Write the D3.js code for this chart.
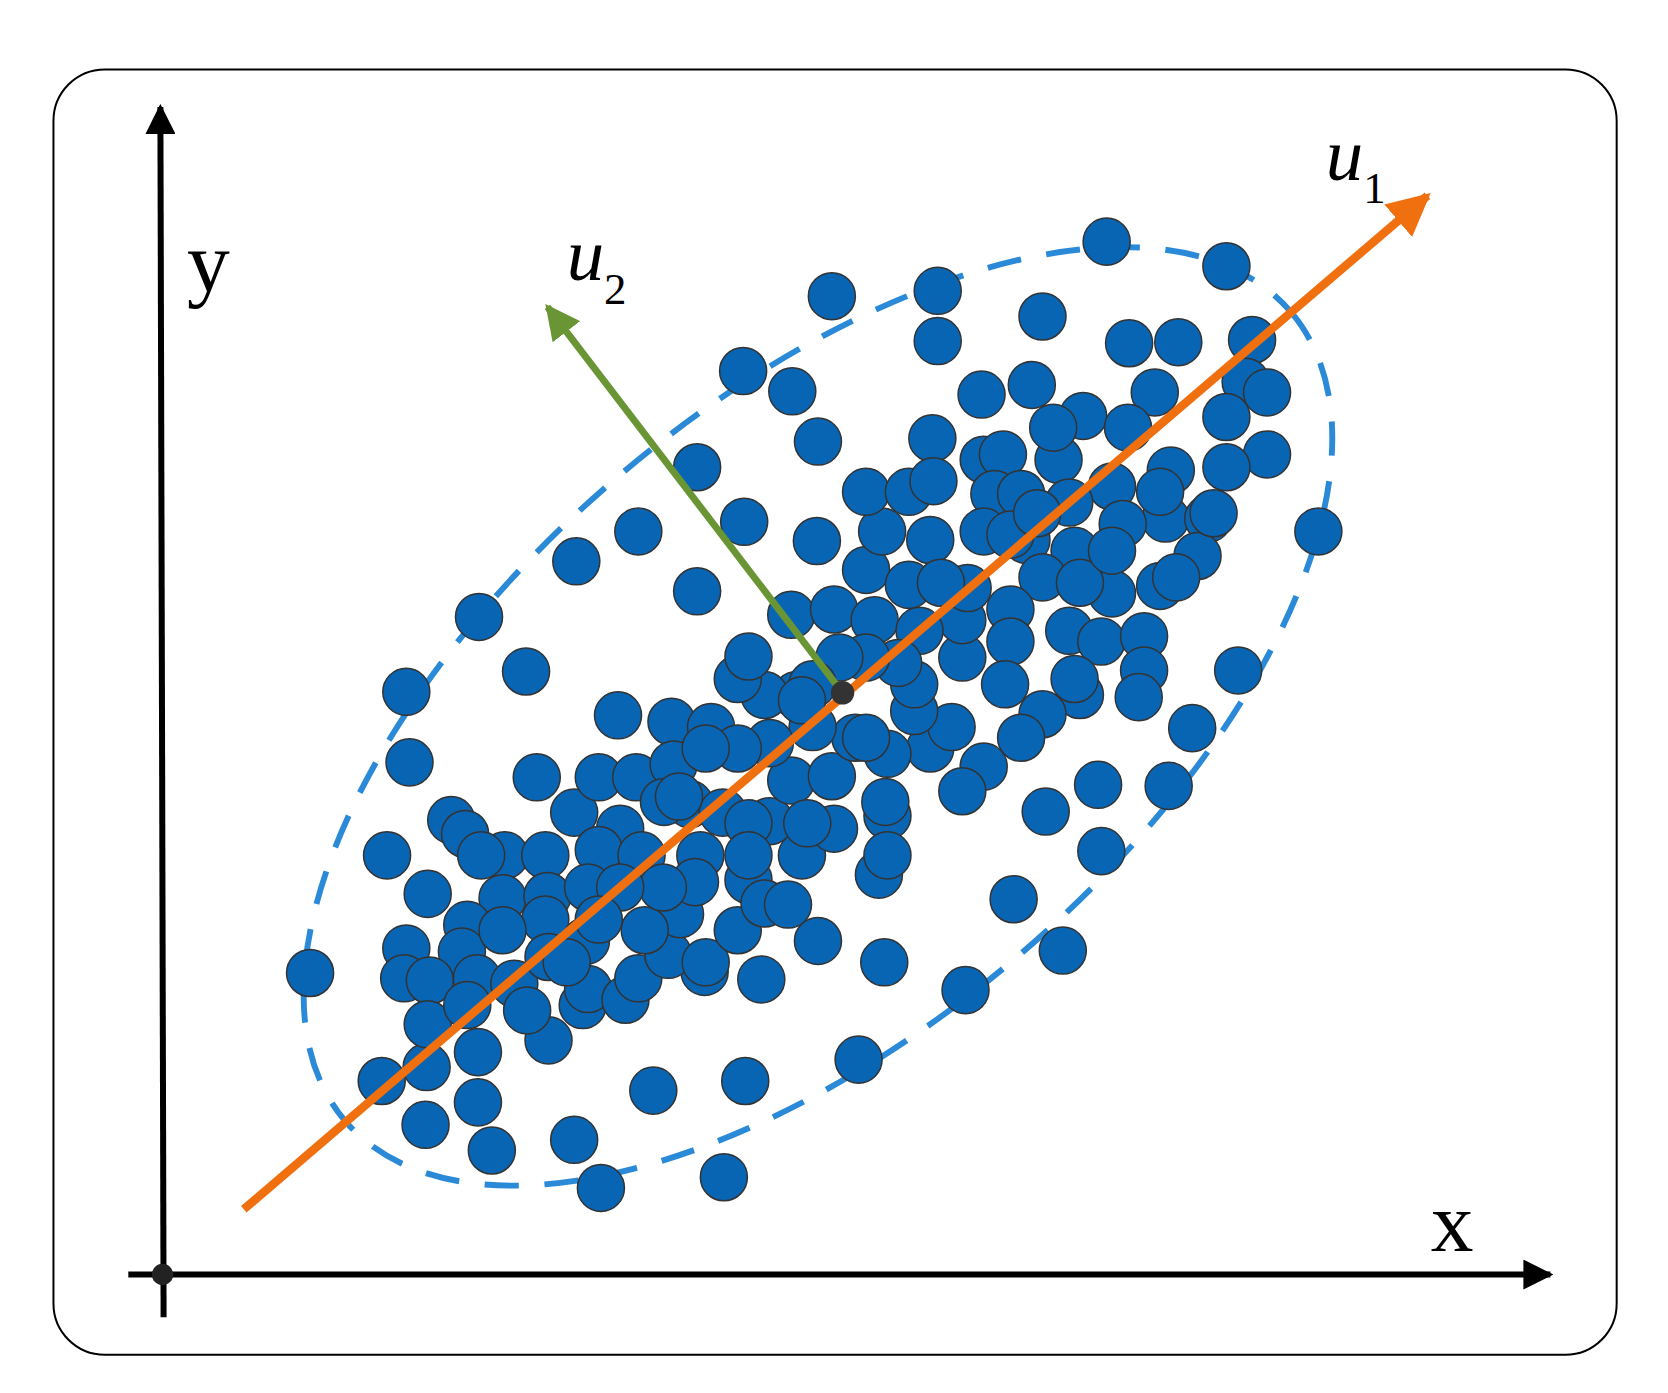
<!DOCTYPE html>
<html><head><meta charset="utf-8">
<script src="https://cdn.jsdelivr.net/npm/d3@7"></script>
<style>body{margin:0;background:#fff}</style>
</head><body><div id="chart"></div>
<script>
// point positions (units of a 1560-wide view)
const pts = [
[290,910],[362,800],[383,713],[380,647],[448,577],[492,628],[539,525],[597,497],[652,437],[695,347],
[741,366],[778,277],[877,272],[877,319],[765,413],[696,488],[652,553],[764,506],[975,296],[1035,226],
[1147,249],[1056,321],[1102,320],[1171,318],[1165,357],[1185,367],[1185,425],[1147,437],[1233,497],[1158,627],
[1115,681],[1093,735],[1027,734],[1030,796],[978,759],[948,841],[994,889],[903,926],[827,900],[822,818],
[803,991],[697,1011],[611,1020],[537,1066],[562,1111],[677,1101],[460,1076],[398,1052],[447,1031],[357,1011],
[399,998],[447,984],[513,973],[578,669],[502,727],[712,916],[765,880],[659,909],[918,369],[965,360],
[1013,389],[1080,367],[1147,390],
[422,767],[435,780],[472,800],[510,800],[400,836],[470,840],[512,838],[537,760],[560,727],[595,727],
[628,675],[665,680],[630,715],[645,752],[676,760],[621,750],[580,775],[560,795],[550,830],[510,860],
[437,865],[380,887],[432,890],[378,915],[402,917],[446,915],[481,920],[400,958],[437,940],[493,945],
[513,895],[548,880],[545,940],[550,925],[585,935],[597,915],[625,893],[636,855],[603,870],[660,900],
[690,870],[700,823],[715,845],[737,846],[750,800],[720,768],[740,730],[778,726],[780,775],[830,763],
[828,750],[800,690],[760,680],[745,650],[715,650],[690,635],[700,614],[740,575],[780,570],[818,580],
[810,533],[850,547],[825,497],[870,505],[810,460],[850,460],[872,410],[873,450],[920,430],[938,425],
[930,462],[955,462],[920,497],[960,505],[990,430],[985,400],[1040,455],[1055,400],[1095,440],[1090,485],
[1130,485],[1120,520],[1085,548],[1040,555],[1005,515],[975,540],[945,570],[945,600],[1000,590],[1030,600],
[1070,595],[1070,627],[1065,652],[1010,650],[1005,635],[975,668],[955,690],[920,717],[900,740],[870,700],
[890,680],[855,665],[855,640],[830,705],[810,690],[900,615],[900,580],[860,590],[940,640],[905,550],
[880,545],[840,620],[810,615],[785,615],[760,640],[750,655],[720,695],[690,700],[660,700],[635,745],
[600,800],[655,800],[650,825],[620,830],[580,830],[560,860],[530,900],[470,870],[450,800],[700,770],
[755,770],[830,800],[700,800],[945,500],[1010,545],[1050,490],[1040,515],[1000,470],[970,480],[1100,540],
[1135,480],[1085,460]
];
const centre = [788,648];
const u1 = [[228,1131],[1335,183]];
const u2 = [[788,648],[512,287]];
const ellipse = {cx:765, cy:670, a:582, b:292, angle:-40.6};

const W = 1668, H = 1393;
const s = d3.scaleLinear().domain([0,1560]).range([0,W]);

const svg = d3.select("#chart").append("svg").attr("width",W).attr("height",H);
const defs = svg.append("defs");
function marker(id,color){
  defs.append("marker").attr("id",id).attr("viewBox","0 0 10 10").attr("refX",9).attr("refY",5)
    .attr("markerWidth",5).attr("markerHeight",5).attr("orient","auto")
    .append("path").attr("d","M0,0L10,5L0,10Z").attr("fill",color);
}
marker("ak","#000"); marker("ao","#f07010"); marker("ag","#6a9535");

// frame
svg.append("rect").attr("x",s(50)).attr("y",s(65)).attr("width",s(1462)).attr("height",s(1202))
  .attr("rx",s(48)).attr("fill","none").attr("stroke","#000").attr("stroke-width",2);

// axes
svg.append("line").attr("x1",s(153)).attr("y1",s(1232)).attr("x2",s(150)).attr("y2",s(100))
  .attr("stroke","#000").attr("stroke-width",6).attr("marker-end","url(#ak)");
svg.append("line").attr("x1",s(120)).attr("y1",s(1192)).attr("x2",s(1450)).attr("y2",s(1192))
  .attr("stroke","#000").attr("stroke-width",6).attr("marker-end","url(#ak)");
svg.append("circle").attr("cx",s(152)).attr("cy",s(1192)).attr("r",s(10)).attr("fill","#222");
svg.append("text").attr("x",s(195)).attr("y",s(272)).attr("text-anchor","middle")
  .attr("font-family","Liberation Serif").attr("font-size",s(80)).text("y");
svg.append("text").attr("x",s(1358)).attr("y",s(1170)).attr("text-anchor","middle")
  .attr("font-family","Liberation Serif").attr("font-size",s(80)).text("x");

// ellipse
svg.append("ellipse").attr("cx",s(ellipse.cx)).attr("cy",s(ellipse.cy))
  .attr("rx",s(ellipse.a)).attr("ry",s(ellipse.b))
  .attr("transform",`rotate(${ellipse.angle},${s(ellipse.cx)},${s(ellipse.cy)})`)
  .attr("fill","none").attr("stroke","#2a8ad8").attr("stroke-width",s(5.5))
  .attr("stroke-dasharray",`${s(32)},${s(24)}`);

// points
svg.append("g").selectAll("circle").data(pts).join("circle")
  .attr("cx",d=>s(d[0])).attr("cy",d=>s(d[1])).attr("r",s(22))
  .attr("fill","#0865b4").attr("stroke","#333").attr("stroke-width",1.5);

// principal directions
svg.append("line").attr("x1",s(u1[0][0])).attr("y1",s(u1[0][1])).attr("x2",s(u1[1][0])).attr("y2",s(u1[1][1]))
  .attr("stroke","#f07010").attr("stroke-width",s(8)).attr("marker-end","url(#ao)");
svg.append("line").attr("x1",s(u2[0][0])).attr("y1",s(u2[0][1])).attr("x2",s(u2[1][0])).attr("y2",s(u2[1][1]))
  .attr("stroke","#6a9535").attr("stroke-width",s(6.5)).attr("marker-end","url(#ag)");
svg.append("circle").attr("cx",s(centre[0])).attr("cy",s(centre[1])).attr("r",s(11)).attr("fill","#333");

function sub(x,y,sym,idx){
  const t = svg.append("text").attr("x",s(x)).attr("y",s(y)).attr("font-family","Liberation Serif");
  t.append("tspan").attr("font-style","italic").attr("font-size",s(70)).text(sym);
  t.append("tspan").attr("font-size",s(42)).attr("dy",s(22)).text(idx);
}
sub(1240,168,"u","1");
sub(530,262,"u","2");
</script></body></html>
